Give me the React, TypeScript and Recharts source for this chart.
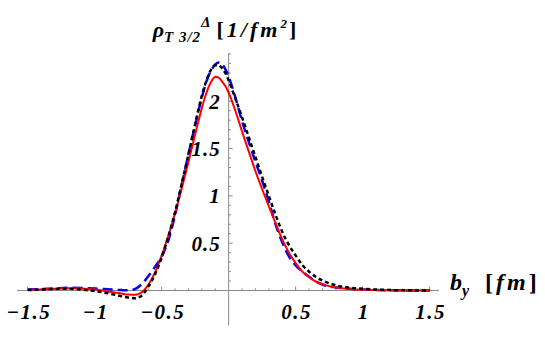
import React from 'react';
import { LineChart, Line, XAxis, YAxis, ReferenceLine } from 'recharts';

// b_y [fm] grid and the three density curves
const byValues = [
  -1.5, -1.4, -1.3, -1.2, -1.1, -1.0, -0.9, -0.8,
  -0.75, -0.7, -0.65, -0.6, -0.55, -0.5, -0.45, -0.4, -0.35, -0.3, -0.25, -0.2,
  -0.175, -0.15, -0.125, -0.1, -0.075, -0.05, -0.025, 0,
  0.05, 0.1, 0.15, 0.2, 0.25, 0.3, 0.35, 0.4, 0.45, 0.5, 0.55, 0.6, 0.65, 0.7,
  0.8, 0.9, 1.0, 1.1, 1.2, 1.3, 1.4, 1.5,
];

const rhoRed = [
  0.005, 0.01, 0.018, 0.025, 0.022, 0.01, -0.01, -0.032,
  -0.043, -0.045, -0.02, 0.06, 0.19, 0.37, 0.58, 0.82, 1.08, 1.36, 1.65, 1.93,
  2.05, 2.15, 2.22, 2.26, 2.25, 2.21, 2.16, 2.09,
  1.9, 1.68, 1.47, 1.26, 1.07, 0.89, 0.71, 0.54, 0.4, 0.29, 0.2, 0.14, 0.095, 0.065,
  0.032, 0.016, 0.008, 0.004, 0.002, 0.001, 0, 0,
];

const rhoBlue = [
  0.01, 0.015, 0.022, 0.028, 0.026, 0.02, 0.012, 0.004,
  0.002, 0.015, 0.065, 0.15, 0.25, 0.36, 0.53, 0.8, 1.12, 1.44, 1.75, 2.04,
  2.17, 2.27, 2.34, 2.39, 2.41, 2.39, 2.34, 2.26,
  2.04, 1.79, 1.57, 1.36, 1.16, 0.94, 0.7, 0.51, 0.36, 0.265, 0.2, 0.145, 0.098, 0.063,
  0.032, 0.018, 0.01, 0.005, 0.003, 0.001, 0, 0,
];

const rhoBlack = [
  0.005, 0.01, 0.016, 0.018, 0.01, -0.006, -0.03, -0.06,
  -0.075, -0.082, -0.055, 0.04, 0.17, 0.35, 0.57, 0.83, 1.13, 1.44, 1.76, 2.06,
  2.18, 2.28, 2.35, 2.38, 2.38, 2.35, 2.3, 2.22,
  2.03, 1.83, 1.62, 1.41, 1.2, 1.0, 0.8, 0.62, 0.48, 0.37, 0.27, 0.2, 0.145, 0.105,
  0.055, 0.03, 0.018, 0.01, 0.005, 0.002, 0.001, 0,
];

const xTickValues = [-1.5, -1, -0.5, 0.5, 1, 1.5];
const xTickLabels = ['\u22121.5', '\u22121', '\u22120.5', '0.5', '1', '1.5'];
const yTickValues = [0.5, 1, 1.5, 2];
const yTickLabels = ['0.5', '1', '1.5', '2'];
const xMinorTicks = [
  -1.4, -1.3, -1.2, -1.1, -0.9, -0.8, -0.7, -0.6, -0.4, -0.3, -0.2, -0.1,
  0.1, 0.2, 0.3, 0.4, 0.6, 0.7, 0.8, 0.9, 1.1, 1.2, 1.3, 1.4,
];
const yMinorTicks = [
  0.1, 0.2, 0.3, 0.4, 0.6, 0.7, 0.8, 0.9, 1.1, 1.2, 1.3, 1.4,
  1.6, 1.7, 1.8, 1.9, 2.1, 2.2, 2.3, 2.4, 2.5,
];

const rows = byValues.map((b, i) => ({
  b,
  red: rhoRed[i],
  blue: rhoBlue[i],
  black: rhoBlack[i],
}));

const serif = 'Liberation Serif';
const axisGray = '#8a8a8a';

const yTickLabel = (text: string) => (p: any) => {
  const vb = p.viewBox;
  return (
    <text x={vb.x - 8} y={vb.y} dy="0.36em" textAnchor="end" fontFamily={serif}
      fontWeight={700} fontStyle="italic" fontSize={21} letterSpacing={1} fill="#000">
      {text}
    </text>
  );
};

const xTickLabel = (text: string) => (p: any) => {
  const vb = p.viewBox;
  return (
    <text x={vb.x + 1} y={vb.y + vb.height + 29} textAnchor="middle" fontFamily={serif}
      fontWeight={700} fontStyle="italic" fontSize={21} letterSpacing={1.5} fill="#000">
      {text}
    </text>
  );
};

// rho title sits above the vertical axis
const titleLabel = (p: any) => {
  const vb = p.viewBox;
  return (
    <text x={vb.x - 76} y={vb.y - 16} fontFamily={serif} fontWeight={700}
      fontStyle="italic" fontSize={22} fill="#000">
      <tspan>ρ</tspan>
      <tspan fontSize={15} dy={5} letterSpacing={1}>T 3/2</tspan>
      <tspan fontSize={15} dy={-15}>Δ</tspan>
      <tspan fontSize={22} dy={10} dx={6} letterSpacing={3} fontStyle="normal">[</tspan>
      <tspan letterSpacing={3}>1/fm</tspan>
      <tspan fontSize={13} dy={-9}>2</tspan>
      <tspan fontSize={22} dy={9} dx={2} fontStyle="normal">]</tspan>
    </text>
  );
};

const byLabel = (p: any) => {
  const vb = p.viewBox;
  return (
    <text x={vb.x + vb.width + 11} y={vb.y} fontFamily={serif} fontWeight={700}
      fontStyle="italic" fontSize={24} fill="#000">
      <tspan>b</tspan>
      <tspan fontSize={16} dy={6}>y</tspan>
      <tspan dy={-6} dx={16} letterSpacing={3} fontStyle="normal">[</tspan>
      <tspan letterSpacing={3}>fm</tspan>
      <tspan fontStyle="normal">]</tspan>
    </text>
  );
};

export default function App() {
  return (
    <div style={{ position: 'absolute', left: 0, top: 0, background: '#fff' }}>
      <LineChart width={545} height={337} data={rows}
        margin={{ top: 53, right: 106, bottom: 11.5, left: 17 }}>
        <XAxis dataKey="b" type="number" domain={[-1.58, 1.57]} hide />
        <YAxis type="number" domain={[-0.37, 2.51]} hide />

        <ReferenceLine segment={[{ x: -1.58, y: 0 }, { x: 1.57, y: 0 }]}
          stroke={axisGray} strokeWidth={1} label={byLabel} />
        <ReferenceLine segment={[{ x: 0, y: -0.37 }, { x: 0, y: 2.51 }]}
          stroke={axisGray} strokeWidth={1} label={titleLabel} />

        {xMinorTicks.map((v) => (
          <ReferenceLine key={'xm' + v} segment={[{ x: v, y: 0 }, { x: v, y: 0.022 }]}
            stroke={axisGray} strokeWidth={1} />
        ))}
        {xTickValues.map((v, i) => (
          <ReferenceLine key={'xM' + v} segment={[{ x: v, y: 0 }, { x: v, y: 0.042 }]}
            stroke={axisGray} strokeWidth={1} label={xTickLabel(xTickLabels[i])} />
        ))}
        {yMinorTicks.map((v) => (
          <ReferenceLine key={'ym' + v} segment={[{ x: 0, y: v }, { x: 0.016, y: v }]}
            stroke={axisGray} strokeWidth={1} />
        ))}
        {yTickValues.map((v, i) => (
          <ReferenceLine key={'yM' + v} segment={[{ x: 0, y: v }, { x: 0.03, y: v }]}
            stroke={axisGray} strokeWidth={1} label={yTickLabel(yTickLabels[i])} />
        ))}

        <Line dataKey="blue" type="monotone" stroke="#0000ff" strokeWidth={2.5}
          strokeDasharray="10 5" dot={false} isAnimationActive={false} />
        <Line dataKey="red" type="monotone" stroke="#ff0000" strokeWidth={2}
          dot={false} isAnimationActive={false} />
        <Line dataKey="black" type="monotone" stroke="#000000" strokeWidth={2.5}
          strokeDasharray="4 3" dot={false} isAnimationActive={false} />
      </LineChart>
    </div>
  );
}
